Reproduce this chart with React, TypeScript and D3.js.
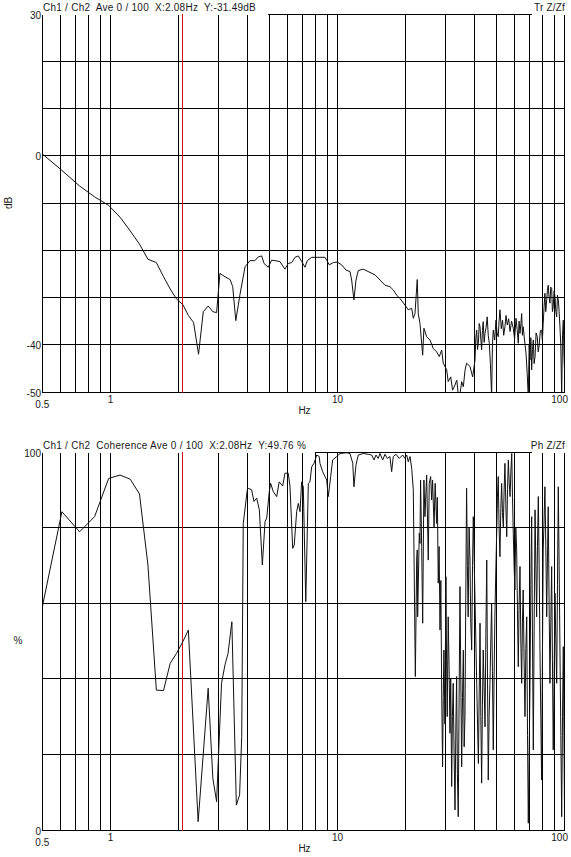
import React from 'react';
import * as d3 from 'd3';

// ---------- data ----------
const tfFreq = [
  0.5, 0.61, 0.73, 0.85, 0.98, 1.1, 1.22, 1.34, 1.46, 1.59, 1.71, 1.83, 1.95, 2.08, 2.2, 2.32, 2.44, 2.56, 2.69, 2.82,
  2.93, 3.03, 3.19, 3.36, 3.45, 3.56, 3.71, 3.91, 4.11, 4.32, 4.47, 4.63, 4.74, 4.95, 5.12, 5.3, 5.57, 5.86, 6.06, 6.28,
  6.49, 6.71, 6.95, 7.18, 7.35, 7.69, 8.36, 8.8, 8.95, 9.19, 9.57, 9.97, 10.42, 10.89, 11.34, 11.53, 11.8, 12.05, 12.33, 12.97,
  13.89, 14.61, 15.37, 16.17, 17.0, 17.59, 18.2, 18.82, 19.8, 20.48, 21.2, 21.55, 21.92, 22.43, 22.66, 23.06, 23.7, 24.0, 24.68, 25.52,
  26.4, 27.3, 28.05, 28.74, 29.2, 30.23, 30.7, 31.5, 32.1, 32.9, 33.5, 34.0, 34.6, 35.2, 35.8, 36.4, 37.0, 38.3, 39.35,
  40.3, 40.65, 41.0, 41.35, 41.7, 42.05, 42.4, 42.75, 43.1, 43.45, 43.8, 44.2, 44.6, 45.1, 45.6, 46.1, 46.6, 47.1, 47.7, 48.1,
  48.5, 49.2, 49.85, 50.4, 51.0, 51.45, 51.9, 52.6, 53.3, 53.9, 54.6, 55.2, 55.9, 56.7, 57.5, 58.4, 59.4, 60.2, 61.1, 61.8,
  62.5, 63.0, 63.6, 64.2, 64.7, 65.2, 65.7, 66.6, 67.6, 68.4, 69.2, 69.8, 70.4, 71.0, 71.6, 72.2, 72.8, 73.4, 74.1, 74.9,
  75.8, 76.5, 77.3, 78.2, 79.2, 79.8, 80.5, 81.2, 81.9, 82.6, 83.4, 84.0, 84.7, 85.4, 86.2, 86.9, 87.7, 88.4, 89.1, 89.9,
  90.7, 91.5, 92.3, 93.0, 93.8, 94.6, 95.4, 96.2, 97.1, 97.9, 98.7, 99.3, 100,
];
const tfDb = [
  0.4, -3.1, -6.4, -8.7, -10.5, -13.0, -15.9, -18.7, -21.9, -22.6, -25.6, -28.2, -30.3, -31.5, -33.8, -35.3, -42.0, -33.0, -31.8, -33.0,
  -33.2, -24.9, -25.6, -26.2, -27.7, -34.9, -29.5, -23.5, -22.2, -22.2, -21.4, -21.2, -22.8, -23.6, -22.1, -22.2, -22.4, -24.0, -22.8, -22.6,
  -21.5, -21.2, -22.4, -23.6, -22.2, -21.5, -21.5, -21.5, -22.1, -23.1, -22.6, -22.5, -23.1, -24.2, -24.5, -26.3, -30.5, -26.3, -24.3, -24.0,
  -24.7, -25.2, -26.3, -27.4, -27.7, -28.4, -29.5, -30.2, -31.6, -32.6, -32.3, -34.4, -33.4, -26.2, -33.4, -35.5, -42.2, -36.5, -38.3, -39.0,
  -40.8, -41.5, -42.5, -41.1, -43.9, -45.3, -47.8, -46.8, -49.6, -48.5, -47.5, -50.5, -50.5, -47.8, -48.9, -45.5, -43.9, -44.6, -46.8,
  -43.2, -38.5, -36.9, -41.0, -39.7, -35.5, -36.2, -38.8, -41.1, -37.0, -35.1, -39.5, -37.6, -36.3, -34.1, -38.0, -39.7, -44.0, -51.0, -40.0,
  -36.9, -39.0, -34.8, -37.5, -38.3, -35.0, -32.6, -36.6, -34.8, -38.0, -36.2, -33.8, -35.8, -34.5, -37.2, -35.0, -36.5, -38.8, -34.4, -36.8,
  -39.7, -35.0, -37.6, -35.5, -33.4, -38.0, -36.2, -39.0, -41.8, -46.0, -51.0, -40.0, -43.2, -38.5, -45.3, -41.0, -39.0, -44.0, -42.5, -37.5,
  -38.3, -41.5, -40.0, -37.0, -36.9, -39.0, -35.5, -32.0, -29.1, -33.0, -30.5, -28.5, -27.4, -30.0, -31.2, -27.8, -28.1, -33.0, -31.9, -28.6,
  -29.8, -33.0, -34.1, -29.5, -30.5, -33.0, -36.2, -40.0, -51.0, -38.0, -34.8, -42.0, -46.0,
];

const cohFreq = [
  0.5, 0.61, 0.73, 0.85, 0.98, 1.1, 1.22, 1.34, 1.46, 1.59, 1.71, 1.83, 1.95, 2.08, 2.2, 2.43, 2.69, 2.82, 2.93, 3.08,
  3.19, 3.29, 3.42, 3.58, 3.7, 3.78, 3.84, 4.0, 4.04, 4.18, 4.28, 4.4, 4.52, 4.66, 4.79, 4.87, 5.0, 5.07, 5.21, 5.39,
  5.53, 5.73, 5.86, 6.06, 6.17, 6.34, 6.44, 6.6, 6.71, 6.83, 6.94, 7.06, 7.24, 7.43, 7.55, 7.69, 7.87, 8.09, 8.3, 8.36,
  8.59, 8.8, 8.95, 9.1, 9.32, 9.51, 9.9, 10.24, 10.96, 11.34, 11.66, 11.8, 12.05, 12.33, 12.97, 13.65, 14.13, 14.46, 14.76, 15.1,
  15.37, 15.8, 16.17, 16.55, 17.0, 17.3, 17.59, 18.08, 18.69, 19.35, 19.8, 20.15, 20.48, 20.84, 21.2, 21.55, 22.0, 22.3, 22.43, 22.52,
  22.9, 23.06, 23.2, 23.46, 23.7, 24.0, 24.25, 24.68, 25.08, 25.33, 25.7, 25.96, 26.2, 26.6, 26.9, 27.3, 27.5, 27.76, 28.0, 28.25,
  28.5, 28.74, 29.0, 29.2, 29.4, 29.7, 30.0, 30.2, 30.4, 30.7, 31.0, 31.26, 31.5, 31.8, 32.05, 32.3, 32.6, 32.9, 33.2, 33.45,
  33.7, 34.0, 34.3, 34.6, 34.9, 35.2, 35.5, 35.8, 36.1, 36.4, 36.7, 37.0, 37.3, 37.6, 37.95, 38.3, 38.6, 38.96, 39.3, 39.6,
  39.95, 40.3, 40.65, 41.0, 41.35, 41.7, 42.05, 42.4, 42.75, 43.1, 43.45, 43.8, 44.2, 44.6, 45.0, 45.4, 45.75, 46.1, 46.5, 46.9,
  47.3, 47.7, 48.1, 48.5, 48.9, 49.3, 49.75, 50.2, 50.6, 51.0, 51.45, 51.9, 52.35, 52.8, 53.25, 53.7, 54.15, 54.6, 55.1, 55.6,
  56.05, 56.5, 57.0, 57.5, 58.0, 58.5, 58.95, 59.4, 59.9, 60.4, 60.95, 61.5, 62.0, 62.5, 63.05, 63.6, 64.15, 64.7, 65.2, 65.7,
  66.3, 66.9, 67.5, 68.1, 68.65, 69.2, 69.8, 70.4, 71.0, 71.6, 72.2, 72.8, 73.45, 74.1, 74.7, 75.3, 75.95, 76.6, 77.25, 77.9,
  78.55, 79.2, 79.85, 80.5, 81.2, 81.9, 82.65, 83.4, 84.05, 84.7, 85.45, 86.2, 86.95, 87.7, 88.4, 89.1, 89.9, 90.7, 91.5, 92.3,
  93.05, 93.8, 94.6, 95.4, 96.25, 97.1, 97.9, 98.7, 99.35, 100,
];
const cohPct = [
  59, 84.2, 78.9, 82.9, 93.0, 93.9, 92.8, 88.9, 70.1, 37.0, 36.9, 44.1, 46.7, 49.8, 52.9, 2.2, 37.5, 13.7, 7.5, 38.8,
  43.7, 46.7, 55.1, 6.6, 9.3, 24.7, 81.1, 90.0, 90.4, 90.0, 86.9, 87.8, 84.7, 70.1, 81.6, 82.5, 89.5, 91.7, 89.5, 88.2,
  92.1, 91.0, 94.4, 94.4, 90.8, 74.5, 75.4, 84.2, 86.4, 84.2, 92.1, 90.8, 60.4, 91.7, 92.1, 96.1, 97.0, 99.2, 98.8, 97.0,
  94.8, 93.5, 92.6, 88.2, 93.5, 97.9, 98.8, 99.6, 99.8, 99.6, 97.0, 90.8, 96.6, 99.2, 99.6, 99.4, 99.2, 97.9, 99.2, 98.3,
  99.6, 97.9, 99.4, 98.3, 98.8, 94.8, 98.8, 99.4, 98.3, 99.2, 98.3, 99.2, 97.4, 98.8, 95.7, 90.0, 40.6, 71.4, 74.1, 56.4,
  78.5, 75.8, 92.6, 75.0, 54.7, 92.6, 82.9, 93.9, 71.4, 91.7, 93.5, 87.3, 92.6, 80.2, 91.7, 81.1, 88.0, 65.3, 75.0, 52.9,
  66.0, 37.0, 16.7, 35.0, 47.6, 28.0, 67.0, 45.0, 30.0, 56.4, 42.0, 25.6, 40.0, 11.5, 30.0, 38.8, 20.0, 5.3, 28.0, 40.6,
  15.0, 3.5, 35.0, 64.4, 40.0, 16.7, 35.0, 47.6, 22.0, 30.0, 62.0, 90.4, 70.0, 56.4, 80.0, 71.4, 55.0, 47.6, 70.0, 82.9,
  72.0, 60.8, 50.0, 38.8, 28.0, 17.6, 36.0, 54.7, 30.0, 12.4, 33.0, 47.6, 38.0, 27.3, 52.0, 71.4, 40.0, 13.2, 30.0, 38.8,
  50.0, 60.0, 42.0, 21.2, 40.0, 56.4, 68.0, 78.5, 88.0, 93.5, 80.0, 72.3, 85.0, 91.7, 84.0, 80.2, 90.0, 97.0, 86.0, 77.6,
  90.0, 97.9, 92.0, 88.2, 95.0, 99.6, 88.0, 78.5, 70.0, 63.5, 80.0, 74.1, 58.0, 43.2, 60.0, 69.7, 50.0, 38.8, 55.0, 63.5,
  45.0, 30.0, 48.0, 56.4, 25.0, 1.8, 20.0, 38.8, 65.0, 82.9, 50.0, 21.2, 55.0, 84.7, 70.0, 56.4, 75.0, 88.2, 70.0, 47.6,
  30.0, 13.2, 45.0, 74.1, 82.0, 90.8, 75.0, 56.4, 72.0, 85.5, 60.0, 38.8, 55.0, 69.7, 45.0, 21.2, 40.0, 62.6, 50.0, 38.8,
  65.0, 90.8, 70.0, 47.6, 25.0, 3.5, 30.0, 48.5, 25.0, 1.8,
];

const gridFreqs = [0.5, 0.6, 0.7, 0.8, 0.9, 1, 2, 3, 4, 5, 6, 7, 8, 9, 10, 20, 30, 40, 50, 60, 70, 80, 90, 100];
const xTickValues = [1, 10, 100];
const xTickTexts = ['1', '10', '100'];
const dbGrid = [30, 20, 10, 0, -10, -20, -30, -40, -50];
const dbLabels = [30, 0, -40, -50];
const pctGrid = [100, 80, 60, 40, 20, 0];
const pctLabels = [100, 0];
const cursorFreq = 2.08;

const topTitle = 'Ch1 / Ch2  Ave 0 / 100  X:2.08Hz  Y:-31.49dB';
const topRight = 'Tr Z/Zf';
const bottomTitle = 'Ch1 / Ch2  Coherence Ave 0 / 100  X:2.08Hz  Y:49.76 %';
const bottomRight = 'Ph Z/Zf';

// ---------- layout ----------
const X0 = 42.3;
const X1 = 564.6;
const FONT = '"Liberation Sans", Arial, sans-serif';
const TXT = '#1a1a1a';

const x = d3.scaleLog().domain([0.5, 100]).range([X0, X1]);
const snap = (v: number) => Math.floor(v) + 0.5;

type PanelProps = {
  id: string;
  top: number;
  bottom: number;
  domain: [number, number];
  grid: number[];
  labels: number[];
  freqs: number[];
  vals: number[];
  title: string;
  rightTitle: string;
  gapEnd: number;
  yName: string;
  yNameX: number;
  rotateName: boolean;
};

function Panel(p: PanelProps) {
  const y = d3.scaleLinear().domain(p.domain).range([p.bottom, p.top]);
  const line = d3
    .line<number>()
    .x((_, i) => x(p.freqs[i]))
    .y((d) => y(d));
  const path = line(p.vals) || '';
  const xr = snap(x(100));
  const xl = snap(x(0.5));
  return (
    <g>
      <defs>
        <clipPath id={p.id}>
          <rect x={xl} y={p.top} width={xr - xl} height={p.bottom - p.top} />
        </clipPath>
      </defs>
      {/* horizontal grid */}
      {p.grid.map((g) => {
        const yy = snap(y(g));
        if (g === p.domain[1]) {
          return <line key={'h' + g} x1={p.gapEnd} x2={531.5} y1={yy} y2={yy} stroke="#000" strokeWidth={1} shapeRendering="crispEdges" />;
        }
        return <line key={'h' + g} x1={xl} x2={xr} y1={yy} y2={yy} stroke="#000" strokeWidth={1} shapeRendering="crispEdges" />;
      })}
      {/* vertical grid */}
      {gridFreqs.map((f) => {
        const xx = snap(x(f));
        return <line key={'v' + f} x1={xx} x2={xx} y1={snap(p.top)} y2={snap(p.bottom)} stroke="#000" strokeWidth={1} shapeRendering="crispEdges" />;
      })}
      {/* cursor */}
      <line x1={snap(x(cursorFreq))} x2={snap(x(cursorFreq))} y1={p.top} y2={p.bottom + 0.5} stroke="#d41515" strokeWidth={1} shapeRendering="crispEdges" />
      {/* curve */}
      <path d={path} fill="none" stroke="#111" strokeWidth={1} strokeLinejoin="round" clipPath={`url(#${p.id})`} />
      {/* y labels */}
      {p.labels.map((l) => (
        <text key={'yl' + l} x={41} y={y(l) + 4.5} textAnchor="end" fontSize={10} fontFamily={FONT} fill={TXT}>
          {l}
        </text>
      ))}
      {/* x labels */}
      <text x={x(0.5)} y={p.bottom + 16} textAnchor="middle" fontSize={10} fontFamily={FONT} fill={TXT}>
        0.5
      </text>
      {xTickValues.map((v, i) => (
        <text
          key={'xl' + v}
          x={v === 100 ? 568 : x(v)}
          y={p.bottom + 11}
          textAnchor={v === 100 ? 'end' : 'middle'}
          fontSize={10}
          fontFamily={FONT}
          fill={TXT}
        >
          {xTickTexts[i]}
        </text>
      ))}
      <text x={304.5} y={p.bottom + 22} textAnchor="middle" fontSize={10} fontFamily={FONT} fill={TXT}>
        Hz
      </text>
      {/* y axis name */}
      {p.rotateName ? (
        <text
          transform={`translate(${p.yNameX},${(p.top + p.bottom) / 2}) rotate(-90)`}
          textAnchor="middle"
          fontSize={10}
          fontFamily={FONT}
          fill={TXT}
        >
          {p.yName}
        </text>
      ) : (
        <text x={p.yNameX} y={(p.top + p.bottom) / 2 + 3} textAnchor="middle" fontSize={10} fontFamily={FONT} fill={TXT}>
          {p.yName}
        </text>
      )}
      {/* titles */}
      <text x={43} y={p.top - 3} fontSize={10} fontFamily={FONT} fill={TXT} letterSpacing={0.25} style={{ whiteSpace: 'pre' }}>
        {p.title}
      </text>
      <text x={565} y={p.top - 3} textAnchor="end" fontSize={10} fontFamily={FONT} fill={TXT} letterSpacing={0.2}>
        {p.rightTitle}
      </text>
    </g>
  );
}

export default function App() {
  return (
    <svg
      width={571}
      height={857}
      viewBox="0 0 571 857"
      style={{ position: 'absolute', left: 0, top: 0, background: '#fff' }}
    >
      <rect x={0} y={0} width={571} height={857} fill="#fff" />
      <Panel
        id="clipTop"
        top={14}
        bottom={392}
        domain={[-50, 30]}
        grid={dbGrid}
        labels={dbLabels}
        freqs={tfFreq}
        vals={tfDb}
        title={topTitle}
        rightTitle={topRight}
        gapEnd={268}
        yName="dB"
        yNameX={12}
        rotateName={true}
      />
      <Panel
        id="clipBottom"
        top={452}
        bottom={830}
        domain={[0, 100]}
        grid={pctGrid}
        labels={pctLabels}
        freqs={cohFreq}
        vals={cohPct}
        title={bottomTitle}
        rightTitle={bottomRight}
        gapEnd={315}
        yName="%"
        yNameX={18}
        rotateName={false}
      />
    </svg>
  );
}
